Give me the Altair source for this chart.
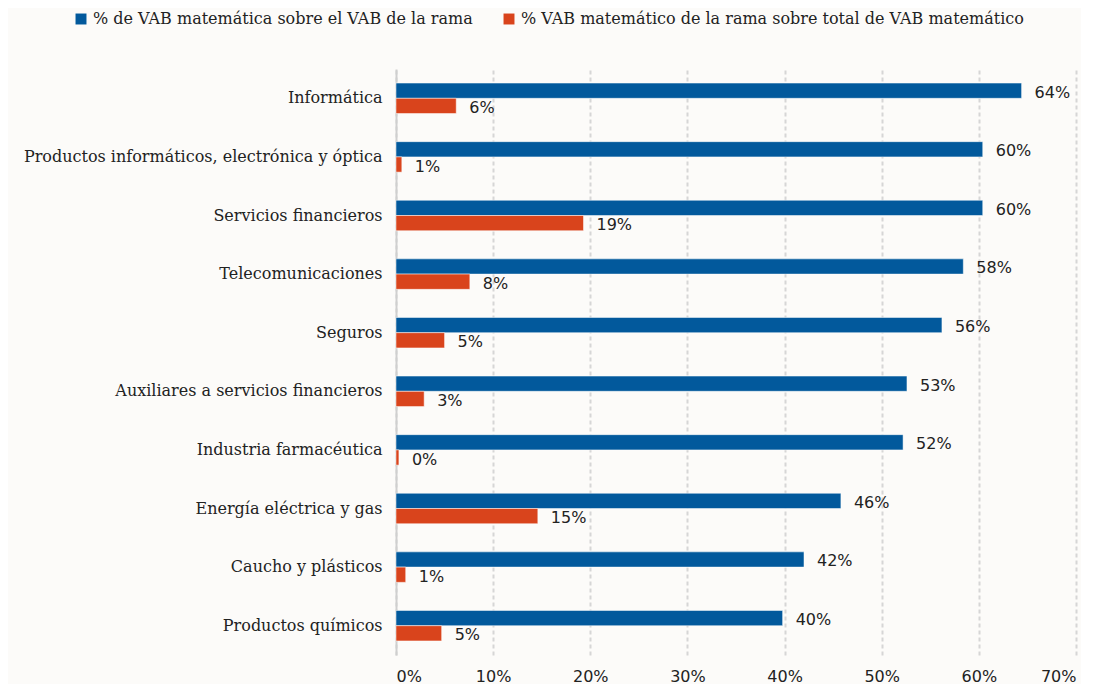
import altair as alt
import pandas as pd

categories = [
    "Informática",
    "Productos informáticos, electrónica y óptica",
    "Servicios financieros",
    "Telecomunicaciones",
    "Seguros",
    "Auxiliares a servicios financieros",
    "Industria farmacéutica",
    "Energía eléctrica y gas",
    "Caucho y plásticos",
    "Productos químicos",
]
series = [
    "% de VAB matemática sobre el VAB de la rama",
    "% VAB matemático de la rama sobre total de VAB matemático",
]
share_of_branch = [64.4, 60.4, 60.4, 58.4, 56.2, 52.6, 52.2, 45.8, 42.0, 39.8]
share_of_total = [6.2, 0.6, 19.3, 7.6, 5.0, 2.9, 0.3, 14.6, 1.0, 4.7]
x_ticks = [0, 10, 20, 30, 40, 50, 60, 70]

rows = []
for c, a, b in zip(categories, share_of_branch, share_of_total):
    rows.append({"cat": c, "serie": series[0], "v": a})
    rows.append({"cat": c, "serie": series[1], "v": b})
df = pd.DataFrame(rows)

blue = "#02599c"
orange = "#d9441c"
label_font = "DejaVu Serif"
num_font = "DejaVu Sans"

y_enc = alt.Y("cat:N", sort=categories, title=None,
              scale=alt.Scale(paddingInner=0.48, paddingOuter=0.24),
              axis=alt.Axis(labelFont=label_font, labelFontSize=16, labelColor="#222222",
                            labelPadding=14, ticks=False, domain=True, domainColor="#cfcfcf",
                            domainWidth=2, labelLimit=500))
yoff = alt.YOffset("serie:N", sort=series, scale=alt.Scale(paddingInner=0.0))
x_enc = alt.X("v:Q", title=None,
              scale=alt.Scale(domain=[0, 70], nice=False),
              axis=alt.Axis(values=x_ticks, labelExpr="datum.value + '%'",
                            labelFont=num_font, labelFontSize=16, labelColor="#222222",
                            labelPadding=13, ticks=False, domain=False,
                            grid=True, gridDash=[4, 3], gridColor="#d6d6d6", gridWidth=2))

bars = alt.Chart(df).mark_bar(stroke="white", strokeWidth=0.5).encode(
    y=y_enc, yOffset=yoff, x=x_enc,
    color=alt.Color("serie:N", sort=series,
                    scale=alt.Scale(domain=series, range=[blue, orange]),
                    legend=alt.Legend(title=None, orient="none", legendX=-323, legendY=-58,
                                      direction="horizontal", symbolType="square",
                                      symbolSize=120, symbolStrokeWidth=0,
                                      labelFont=label_font, labelFontSize=16,
                                      labelColor="#222222", labelLimit=600,
                                      columnPadding=28, labelOffset=4)),
)

texts = alt.Chart(df).transform_calculate(
    lab="format(datum.v, '.0f') + '%'"
).mark_text(align="left", baseline="middle", dx=13, dy=2, font=num_font, fontSize=16,
            color="#222222").encode(
    y=alt.Y("cat:N", sort=categories), yOffset=alt.YOffset("serie:N", sort=series),
    x="v:Q", text="lab:N",
)

chart = alt.layer(bars, texts).properties(
    width=680, height=586,
    background="#fcfbf9",
    padding={"left": 15, "top": 3, "right": 5, "bottom": 0},
).configure_view(stroke=None)

chart.save("out.html", embed_options={"renderer": "svg", "actions": False})
